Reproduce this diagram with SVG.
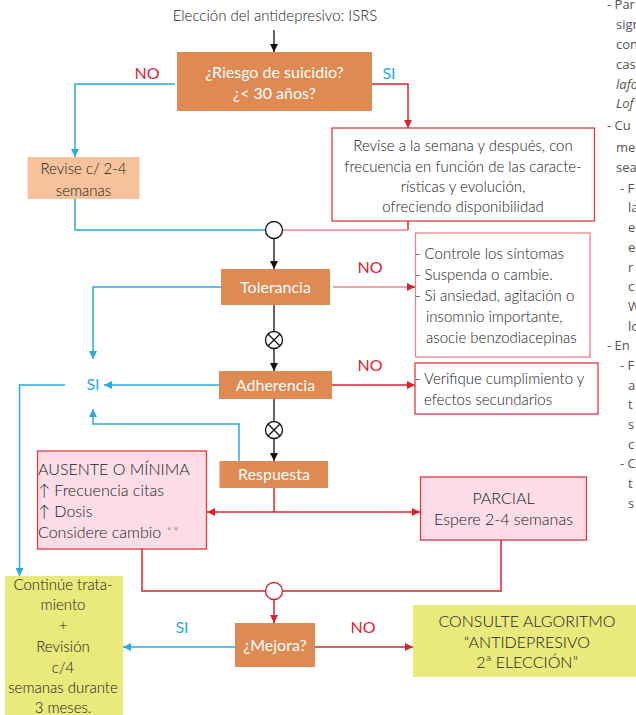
<svg xmlns="http://www.w3.org/2000/svg" width="636" height="715" viewBox="0 0 636 715">
<defs>
<marker id="ab" markerUnits="userSpaceOnUse" markerWidth="10" markerHeight="10" refX="8" refY="4" orient="auto"><path d="M0,0 L8,4 L0,8 z" fill="#111"/></marker>
<marker id="au" markerUnits="userSpaceOnUse" markerWidth="10" markerHeight="10" refX="8" refY="4" orient="auto"><path d="M0,0 L8,4 L0,8 z" fill="#29AAE1"/></marker>
<marker id="ar" markerUnits="userSpaceOnUse" markerWidth="10" markerHeight="10" refX="8" refY="4" orient="auto"><path d="M0,0 L8,4 L0,8 z" fill="#D8232E"/></marker>
<marker id="ars" markerUnits="userSpaceOnUse" markerWidth="10" markerHeight="10" refX="0" refY="4" orient="auto"><path d="M8,0 L0,4 L8,8 z" fill="#D8232E"/></marker>
</defs>
<style>
text{font-family:Lato,"Open Sans","Liberation Sans",sans-serif;font-weight:300;}
.t{font-size:15px;fill:#222;}
.tm{font-size:15px;fill:#222;text-anchor:middle;}
.w{font-size:16px;fill:#fff;text-anchor:middle;font-weight:400;}
.no{font-size:16px;fill:#D8232E;text-anchor:middle;font-weight:400;}
.si{font-size:16px;fill:#29AAE1;text-anchor:middle;font-weight:400;}
.or{fill:#DE8A52;}
.side{font-family:"Open Sans","Liberation Sans",sans-serif;font-size:13px;fill:#555;font-weight:400;}
.bl{fill:none;stroke:#29AAE1;stroke-width:1.5;}
.rd{fill:none;stroke:#D8232E;stroke-width:1.5;}
.pk{fill:none;stroke:#E9838C;stroke-width:1.5;}
.bk{fill:none;stroke:#111;stroke-width:1.3;}
</style>

<text class="tm" x="275" y="21">Elección del antidepresivo: ISRS</text>

<g id="connectors">
<path class="bk" d="M274,30 V52" marker-end="url(#ab)"/>
<path class="bl" d="M175,84 H75 V157" marker-end="url(#au)"/>
<path class="rd" d="M372,84 H408 V128" marker-end="url(#ar)"/>
<path class="bl" d="M75,199 V230 H265.5"/>
<path class="rd" d="M408,221 V230"/>
<path class="pk" d="M408,230 H282.5"/>
<path class="bk" d="M274,238.5 V269" marker-end="url(#ab)"/>
<path class="pk" d="M333,287 H415"/>
<path class="rd" d="M407,287 H415" marker-end="url(#ar)"/>
<path class="bl" d="M221,287 H93 V359" marker-end="url(#au)"/>
<path class="bk" d="M274,305 V331.5"/>
<path class="bk" d="M274,348.5 V371" marker-end="url(#ab)"/>
<path class="rd" d="M332,385 H415" marker-end="url(#ar)"/>
<path class="bl" d="M219,385 H104" marker-end="url(#au)"/>
<path class="bk" d="M274,399 V421.5"/>
<path class="bk" d="M274,438.5 V461" marker-end="url(#ab)"/>
<path class="bl" d="M239,461 V424 H93 V409" marker-end="url(#au)"/>
<path class="bl" d="M65,385 H19.5 V576" marker-end="url(#au)"/>
<path class="rd" d="M274,488 V512"/>
<path class="rd" d="M207,512 H420" marker-start="url(#ars)" marker-end="url(#ar)"/>
<path class="rd" d="M142,549 V591 H265.5"/>
<path class="rd" d="M501,540 V591 H282.5"/>
<path class="rd" d="M274,599.5 V623" marker-end="url(#ar)"/>
<path class="bl" d="M235,647 H123" marker-end="url(#au)"/>
<path class="rd" d="M315,647 H413" marker-end="url(#ar)"/>
</g>

<g id="n-riesgo">
<rect class="or" x="177" y="52" width="195" height="59"/>
<text class="w" x="274.5" y="78">¿Riesgo de suicidio?</text>
<text class="w" x="274.5" y="99">¿&lt; 30 años?</text>
</g>
<text class="no" x="147" y="79">NO</text>
<text class="si" x="389" y="79">SI</text>

<g id="n-revise">
<rect x="27.5" y="157" width="112" height="42" fill="#F6C29B"/>
<text class="tm" x="83.5" y="174">Revise c/ 2-4</text>
<text class="tm" x="83.5" y="196">semanas</text>
</g>

<g id="n-semana">
<rect x="332" y="128" width="262.5" height="93" fill="#fff" stroke="#DD3A46" stroke-width="1.3"/>
<text class="tm" x="463" y="151">Revise a la semana y después, con</text>
<text class="tm" x="463" y="172">frecuencia en función de las caracte-</text>
<text class="tm" x="463" y="192">rísticas y evolución,</text>
<text class="tm" x="463" y="212">ofreciendo disponibilidad</text>
</g>

<g id="c1"><circle cx="274" cy="230" r="8.5" fill="#fff" stroke="#111" stroke-width="1.3"/></g>

<g id="n-tolerancia">
<rect class="or" x="221" y="269" width="109" height="36"/>
<text class="w" x="275.5" y="293">Tolerancia</text>
</g>
<text class="no" x="370" y="273">NO</text>

<g id="n-controle">
<rect x="415.5" y="233" width="174.5" height="124" fill="#fff" stroke="#E9838C" stroke-width="1.3"/>
<text class="t" x="415" y="259">- Controle los síntomas</text>
<text class="t" x="415" y="280">- Suspenda o cambie.</text>
<text class="t" x="415" y="301">- Si ansiedad, agitación o</text>
<text class="t" x="426" y="322">insomnio importante,</text>
<text class="t" x="426" y="343">asocie benzodiacepinas</text>
</g>

<g id="x1">
<circle cx="274" cy="340" r="8.5" fill="#fff" stroke="#111" stroke-width="1.3"/>
<path class="bk" d="M268,334 L280,346 M280,334 L268,346"/>
</g>

<text class="si" x="93" y="390">SI</text>

<g id="n-adherencia">
<rect class="or" x="219" y="371" width="113" height="28"/>
<text class="w" x="275.5" y="391">Adherencia</text>
</g>
<text class="no" x="370" y="371">NO</text>

<g id="n-verifique">
<rect x="415" y="363" width="183" height="51" fill="#fff" stroke="#DD3A46" stroke-width="1.3"/>
<text class="t" x="415" y="384">- Verifique cumplimiento y</text>
<text class="t" x="424" y="405">efectos secundarios</text>
</g>

<g id="x2">
<circle cx="274" cy="430" r="8.5" fill="#fff" stroke="#111" stroke-width="1.3"/>
<path class="bk" d="M268,424 L280,436 M280,424 L268,436"/>
</g>

<g id="n-respuesta">
<rect class="or" x="219.5" y="461" width="108.5" height="27"/>
<text class="w" x="274" y="480">Respuesta</text>
</g>

<g id="n-ausente">
<rect x="37.5" y="451" width="169" height="98" fill="#FCDDE7" stroke="#DD3A46" stroke-width="1.3"/>
<text class="t" x="38" y="475" style="font-size:16px">AUSENTE O MÍNIMA</text>
<text class="t" x="38" y="496" style="font-size:16px">↑ Frecuencia citas</text>
<text class="t" x="38" y="517" style="font-size:16px">↑ Dosis</text>
<text class="t" x="38" y="538" style="font-size:16px">Considere cambio <tspan fill="#888">**</tspan></text>
</g>

<g id="n-parcial">
<rect x="420.5" y="477" width="166" height="63" fill="#FCDDE7" stroke="#DD3A46" stroke-width="1.3"/>
<text class="tm" x="503.5" y="504" style="font-size:16px">PARCIAL</text>
<text class="tm" x="503.5" y="525" style="font-size:16px">Espere 2-4 semanas</text>
</g>

<g id="c2"><circle cx="274" cy="591" r="8.5" fill="#fff" stroke="#D8232E" stroke-width="1.3"/></g>

<g id="n-mejora">
<rect class="or" x="235" y="623" width="80" height="44"/>
<text class="w" x="275" y="651">¿Mejora?</text>
</g>
<text class="si" x="182" y="633">SI</text>
<text class="no" x="363" y="633">NO</text>

<g id="n-consulte">
<rect x="413" y="605" width="223" height="72" fill="#E9E97C"/>
<text class="tm" x="527" y="627" style="font-size:16px">CONSULTE ALGORITMO</text>
<text class="tm" x="527" y="648" style="font-size:16px">“ANTIDEPRESIVO</text>
<text class="tm" x="527" y="668" style="font-size:16px">2ª ELECCIÓN”</text>
</g>

<g id="n-continue">
<rect x="5" y="576" width="118" height="139" fill="#E9E97C"/>
<text class="tm" x="63" y="590">Continúe trata-</text>
<text class="tm" x="63" y="610">miento</text>
<text class="tm" x="63" y="631">+</text>
<text class="tm" x="63" y="652">Revisión</text>
<text class="tm" x="63" y="673">c/4</text>
<text class="tm" x="63" y="693">semanas durante</text>
<text class="tm" x="63" y="713">3 meses.</text>
</g>

<g id="side-notes">
<text class="side" x="607" y="9">- Par</text>
<text class="side" x="616" y="29">sign</text>
<text class="side" x="616" y="49">con</text>
<text class="side" x="616" y="69">cas</text>
<text class="side" x="616" y="89" font-style="italic">lafo</text>
<text class="side" x="616" y="108" font-style="italic">Lof</text>
<text class="side" x="607" y="130">- Cu</text>
<text class="side" x="616" y="152">me</text>
<text class="side" x="616" y="172">sea</text>
<text class="side" x="620" y="193">- F</text>
<text class="side" x="628" y="212">la</text>
<text class="side" x="628" y="232">e</text>
<text class="side" x="628" y="252">e</text>
<text class="side" x="628" y="272">r</text>
<text class="side" x="628" y="291">c</text>
<text class="side" x="628" y="311">W</text>
<text class="side" x="628" y="331">lo</text>
<text class="side" x="607" y="350">- En</text>
<text class="side" x="620" y="370">- F</text>
<text class="side" x="628" y="390">a</text>
<text class="side" x="628" y="409">t</text>
<text class="side" x="628" y="429">s</text>
<text class="side" x="628" y="449">c</text>
<text class="side" x="620" y="468">- C</text>
<text class="side" x="628" y="488">t</text>
<text class="side" x="628" y="508">s</text>
</g>
</svg>
